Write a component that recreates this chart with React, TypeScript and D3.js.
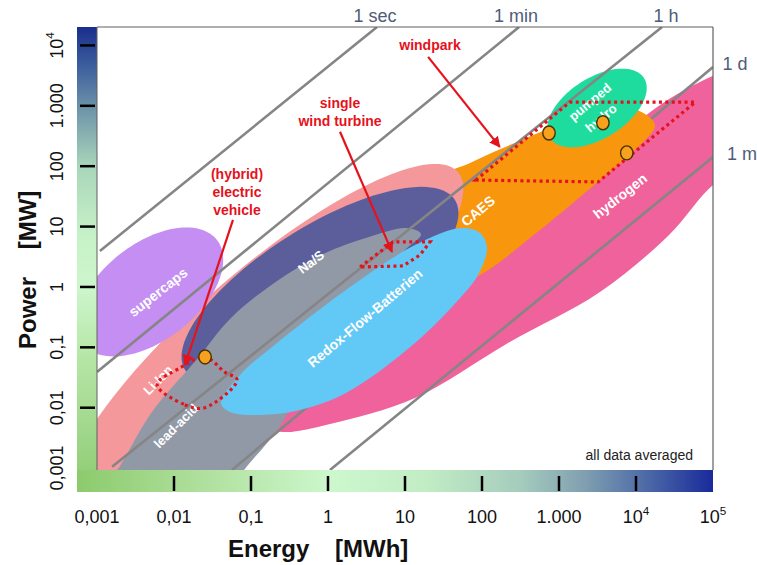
import React from 'react';
import * as d3 from 'd3';

// ---------- axis data ----------
const energyTickValues = [0.001, 0.01, 0.1, 1, 10, 100, 1000, 10000, 100000];
const energyTickLabels = ['0,001', '0,01', '0,1', '1', '10', '100', '1.000', '10^4', '10^5'];
const powerTickValues = [0.001, 0.01, 0.1, 1, 10, 100, 1000, 10000];
const powerTickLabels = ['0,001', '0,01', '0,1', '1', '10', '100', '1.000', '10^4'];

// ---------- discharge-time reference lines (MWh, MW endpoints) ----------
const timeLabels = ['1 sec', '1 min', '1 h', '1 d', '1 m'];
const timeStartE = [0.00109, 0.001, 0.00157, 0.0566, 1.06];
const timeStartP = [3.94, 0.0392, 0.00105, 0.00093, 0.00093];
const timeEndE = [4.33, 303, 21800, 100000, 100000];
const timeEndP = [20200, 20200, 20200, 4385, 142];

// ---------- technology regions (log10 MWh, log10 MW) ----------
// ellipses: tip A, tip B (along main axis), half width in decades
const techNames = ['pumped hydro', 'Li-Ion', 'Na/S', 'supercaps'];
const techColors = ['#1edc9d', '#f5989b', '#5b5e9b', '#c48ef2'];
const techTipA = [[2.883, 2.467], [-3.351, -3.692], [-1.857, -1.374], [-3.182, -0.944]];
const techTipB = [[4.104, 3.46], [1.688, 1.904], [1.649, 1.44], [-1.442, 0.778]];
const techHalfWidth = [0.5, 1.16, 0.96, 0.8];

// free-form outlines
const hydrogenOutline = [
  [-0.727, -2.334], [0.026, -1.54], [1.195, -0.381], [1.974, 0.364], [3.013, 1.44], [4.052, 2.765],
  [4.831, 3.394], [5.351, 3.593], [5.61, 3.096], [5.351, 1.937], [5.0, 1.689], [4.429, 0.861],
  [3.532, -0.083], [2.338, -0.927], [1.13, -1.838], [0.026, -2.268], [-0.558, -2.401],
];
const caesOutline = [
  [1.455, 1.805], [1.844, 2.053], [2.273, 2.301], [2.922, 2.649], [3.532, 2.93], [4.013, 2.93],
  [4.247, 2.682], [4.052, 2.351], [3.532, 1.772], [2.753, 0.944], [1.974, 0.199], [1.455, -0.05], [1.13, 0.778],
];
const leadAcidOutline = [
  [-2.831, -3.195], [-2.701, -2.964], [-2.286, -2.07], [-1.688, -1.175], [-1.26, -0.513], [-0.662, 0.099],
  [-0.065, 0.546], [0.532, 0.828], [1.013, 0.977], [1.208, 0.877], [1.0, 0.613], [0.026, -0.712],
  [-0.6, -2.26], [-1.09, -3.03], [-1.33, -3.444], [-2.442, -3.526],
];
const redoxOutline = [
  [-1.39, -1.921], [-1.143, -1.457], [-0.662, -0.927], [0.234, -0.05], [1.13, 0.695], [1.727, 0.977],
  [1.974, 0.894], [2.065, 0.646], [1.948, 0.199], [1.727, -0.166], [1.13, -0.927], [0.234, -1.755],
  [-0.364, -2.036], [-0.883, -2.119], [-1.273, -2.07],
];

// ---------- application examples (log10 MWh, log10 MW) ----------
const windparkOutline = [[1.92, 1.77], [3.14, 3.06], [4.77, 3.06], [3.9, 2.15], [3.51, 1.74]];
const turbineOutline = [[0.416, 0.331], [0.844, 0.745], [1.325, 0.745], [1.195, 0.53], [0.974, 0.348]];
const evOutline = [[-2.22, -1.62], [-1.86, -1.95], [-1.6, -2.0], [-1.18, -1.54], [-1.34, -1.41], [-1.6, -1.16], [-1.92, -1.34]];
const markerPoints = [[-1.597, -1.159], [2.87, 2.55], [3.57, 2.72], [3.88, 2.22]];
const arrowFrom = [[1.3, 3.81], [0.156, 2.57], [-1.234, 1.11]];
const arrowTo = [[2.23, 2.32], [0.831, 0.58], [-1.857, -1.29]];

const FONT = 'Arial, "Liberation Sans", Helvetica, sans-serif';

function SupLabel({ text, fontSize }: { text: string; fontSize: number }) {
  if (text.includes('^')) {
    const [b, e] = text.split('^');
    return (
      <>
        {b}
        <tspan dy={-fontSize * 0.45} fontSize={fontSize * 0.65}>{e}</tspan>
      </>
    );
  }
  return <>{text}</>;
}

export default function App() {
  const x = d3.scaleLog().domain([1e-3, 1e5]).range([97, 713]);
  const y = d3.scaleLog().domain([9.3e-4, 2.02e4]).range([470, 27]);
  const X = (le: number) => x(Math.pow(10, le));
  const Y = (lp: number) => y(Math.pow(10, lp));
  const pxPerDecade = y(1) - y(10);

  const ellipsePath = (tA: number[], tB: number[], hw: number) => {
    const x1 = X(tA[0]), y1 = Y(tA[1]), x2 = X(tB[0]), y2 = Y(tB[1]);
    const cx = (x1 + x2) / 2, cy = (y1 + y2) / 2;
    const dx = x2 - x1, dy = y2 - y1;
    const len = Math.hypot(dx, dy);
    const a = len / 2;
    const ux = dx / len, uy = dy / len;
    const vx = -uy, vy = ux;
    const b = hw * pxPerDecade;
    const pts = d3.range(0, 360, 3).map((deg) => {
      const t = (deg * Math.PI) / 180;
      return [cx + a * Math.cos(t) * ux + b * Math.sin(t) * vx, cy + a * Math.cos(t) * uy + b * Math.sin(t) * vy] as [number, number];
    });
    return d3.line().curve(d3.curveLinearClosed)(pts) as string;
  };
  const smoothClosed = (pts: number[][]) =>
    d3.line<number[]>().x((d) => X(d[0])).y((d) => Y(d[1])).curve(d3.curveCatmullRomClosed.alpha(0.5))(pts) as string;
  const polyClosed = (pts: number[][]) =>
    d3.line<number[]>().x((d) => X(d[0])).y((d) => Y(d[1])).curve(d3.curveLinearClosed)(pts) as string;

  const techShape = (n: string) => {
    const i = techNames.indexOf(n);
    return <path key={n} d={ellipsePath(techTipA[i], techTipB[i], techHalfWidth[i])} fill={techColors[i]} />;
  };

  const timeLine = (i: number, extra: any = {}) => (
    <line
      key={'tl' + i}
      x1={x(timeStartE[i])}
      y1={y(timeStartP[i])}
      x2={x(timeEndE[i])}
      y2={y(timeEndP[i])}
      stroke="#858585"
      strokeWidth={2.6}
      {...extra}
    />
  );

  const left = 97, right = 713, top = 27, bottom = 470;
  const red = '#e5121c';
  const dotted = { fill: 'none', stroke: red, strokeWidth: 3.2, strokeDasharray: '3 3.4' };
  const caesPath = smoothClosed(caesOutline);

  const whiteLabel = (txt: string, cx: number, cy: number, rot: number, size = 13) => (
    <text
      key={txt}
      transform={`translate(${cx},${cy}) rotate(${rot})`}
      textAnchor="middle"
      dominantBaseline="central"
      fill="#ffffff"
      fontWeight="bold"
      fontSize={size}
      fontFamily={FONT}
    >
      {txt}
    </text>
  );

  return (
    <svg width={757} height={565} style={{ display: 'block', position: 'absolute', left: 0, top: 0 }} fontFamily={FONT}>
      <defs>
        <linearGradient id="vbar" x1="0" y1="0" x2="0" y2="1">
          <stop offset="0%" stopColor="#1a2d8d" />
          <stop offset="8%" stopColor="#3b5c9c" />
          <stop offset="18%" stopColor="#7096aa" />
          <stop offset="30%" stopColor="#a9d6ba" />
          <stop offset="45%" stopColor="#c7f1c7" />
          <stop offset="56%" stopColor="#cdf6cc" />
          <stop offset="72%" stopColor="#b5e5a4" />
          <stop offset="87%" stopColor="#a0d78c" />
          <stop offset="100%" stopColor="#8ccb6c" />
        </linearGradient>
        <linearGradient id="hbar" x1="0" y1="0" x2="1" y2="0">
          <stop offset="0%" stopColor="#8ccb6c" />
          <stop offset="20%" stopColor="#b0e09e" />
          <stop offset="40%" stopColor="#cdf7cd" />
          <stop offset="55%" stopColor="#c2ecc4" />
          <stop offset="70%" stopColor="#a4cbbd" />
          <stop offset="80%" stopColor="#7f9eb0" />
          <stop offset="90%" stopColor="#4a67a6" />
          <stop offset="100%" stopColor="#1a2a9b" />
        </linearGradient>
        <clipPath id="plot">
          <rect x={left} y={top} width={right - left} height={bottom - top} />
        </clipPath>
        <mask id="noCaes" maskUnits="userSpaceOnUse" x={0} y={0} width={757} height={565}>
          <rect x={0} y={0} width={757} height={565} fill="#fff" />
          <path d={caesPath} fill="#000" />
        </mask>
        <marker id="arrow" viewBox="0 0 10 10" refX="9" refY="5" markerWidth="5" markerHeight="5" orient="auto">
          <path d="M0,0 L10,5 L0,10 z" fill={red} />
        </marker>
      </defs>

      <rect x={0} y={0} width={757} height={565} fill="#ffffff" />

      {/* colour bars */}
      <rect x={77} y={top} width={left - 77} height={bottom - top + 22} fill="url(#vbar)" />
      <rect x={77} y={bottom} width={right - 77} height={22} fill="url(#hbar)" />

      {/* plot area */}
      <g clipPath="url(#plot)">
        <path d={smoothClosed(hydrogenOutline)} fill="#f0629b" />
        <path d={caesPath} fill="#f8960e" />
        {techShape('pumped hydro')}
        {techShape('Li-Ion')}
        {techShape('Na/S')}
        <path d={smoothClosed(leadAcidOutline)} fill="#9199a7" />
        <g mask="url(#noCaes)">{timeLine(3)}</g>
        <path d={smoothClosed(redoxOutline)} fill="#62c8f6" />
        {techShape('supercaps')}
        {[0, 1, 2, 4].map((i) => timeLine(i))}
      </g>

      {/* frame */}
      <line x1={left} y1={top} x2={right} y2={top} stroke="#606060" strokeWidth={1.2} />
      <line x1={right} y1={top} x2={right} y2={bottom} stroke="#606060" strokeWidth={1.2} />
      <line x1={left} y1={top} x2={left} y2={bottom} stroke="#606060" strokeWidth={1} />

      {/* technology labels */}
      {whiteLabel('supercaps', 158, 292, -38, 14)}
      {whiteLabel('Li-Ion', 158, 380, -45, 13)}
      {whiteLabel('Na/S', 311, 262, -37, 13)}
      {whiteLabel('lead-acid', 176, 426, -45, 13)}
      {whiteLabel('Redox-Flow-Batterien', 365, 318, -40, 14)}
      {whiteLabel('CAES', 478, 211, -40, 14)}
      {whiteLabel('pumped', 590, 102, -40, 13)}
      {whiteLabel('hydro', 601, 118, -40, 13)}
      {whiteLabel('hydrogen', 620, 196, -38, 14)}

      {/* application examples */}
      <path d={polyClosed(windparkOutline)} {...dotted} />
      <path d={polyClosed(turbineOutline)} {...dotted} />
      <path d={smoothClosed(evOutline)} {...dotted} />
      {arrowFrom.map((f, i) => (
        <line
          key={'ar' + i}
          x1={X(f[0])}
          y1={Y(f[1])}
          x2={X(arrowTo[i][0])}
          y2={Y(arrowTo[i][1])}
          stroke={red}
          strokeWidth={2.2}
          markerEnd="url(#arrow)"
        />
      ))}
      {markerPoints.map((p, i) => (
        <ellipse key={'mk' + i} cx={X(p[0])} cy={Y(p[1])} rx={6.2} ry={7} fill="#f6a21e" stroke="#4a3200" strokeWidth={1.4} />
      ))}

      <g fill={red} fontWeight="bold" fontSize={14} textAnchor="middle" fontFamily={FONT}>
        <text x={430} y={50}>windpark</text>
        <text x={340} y={108}>single</text>
        <text x={340} y={126}>wind turbine</text>
        <text x={237} y={179}>(hybrid)</text>
        <text x={237} y={197}>electric</text>
        <text x={237} y={215}>vehicle</text>
      </g>

      <text x={693} y={460} textAnchor="end" fontSize={14} fill="#222">all data averaged</text>

      {/* time labels */}
      <g fill="#4f5c78" fontSize={18}>
        <text x={375} y={22} textAnchor="middle">{timeLabels[0]}</text>
        <text x={516} y={22} textAnchor="middle">{timeLabels[1]}</text>
        <text x={666} y={22} textAnchor="middle">{timeLabels[2]}</text>
        <text x={735} y={70} textAnchor="middle">{timeLabels[3]}</text>
        <text x={742} y={160} textAnchor="middle">{timeLabels[4]}</text>
      </g>

      {/* power axis */}
      {powerTickValues.map((v, i) => (
        <g key={'py' + i}>
          {i > 0 && <line x1={80} x2={95} y1={y(v)} y2={y(v)} stroke="#000" strokeWidth={2.5} />}
          <text
            transform={`translate(57,${y(v)}) rotate(-90)`}
            textAnchor="middle"
            dominantBaseline="central"
            fontSize={18}
            fill="#111"
          >
            <SupLabel text={powerTickLabels[i]} fontSize={18} />
          </text>
        </g>
      ))}
      <g fontSize={24} fontWeight="bold" fill="#111">
        <text transform="translate(27,313) rotate(-90)" textAnchor="middle" dominantBaseline="central">Power</text>
        <text transform="translate(27,220) rotate(-90)" textAnchor="middle" dominantBaseline="central">[MW]</text>
      </g>

      {/* energy axis */}
      {energyTickValues.map((v, i) => (
        <g key={'ex' + i}>
          {i > 0 && i < energyTickValues.length - 1 && (
            <line x1={x(v)} x2={x(v)} y1={476} y2={491} stroke="#000" strokeWidth={2.5} />
          )}
          <text x={x(v)} y={523} textAnchor="middle" fontSize={18} fill="#111">
            <SupLabel text={energyTickLabels[i]} fontSize={18} />
          </text>
        </g>
      ))}
      <g fontSize={24} fontWeight="bold" fill="#111">
        <text x={228} y={557}>Energy</text>
        <text x={335} y={557}>[MWh]</text>
      </g>
    </svg>
  );
}
